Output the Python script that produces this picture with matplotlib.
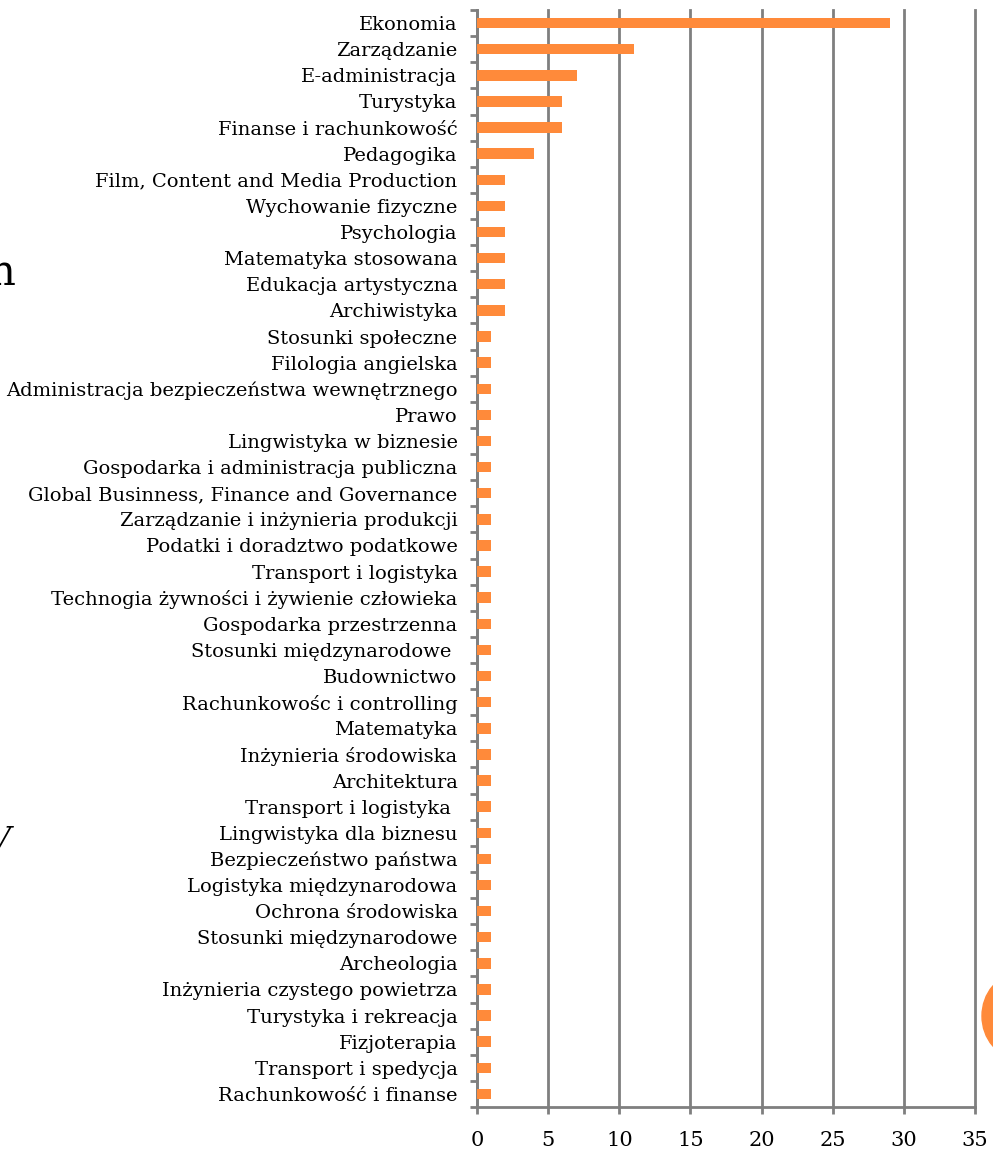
"""Horizontal bar chart: liczba studentów wg kierunku studiów."""

import matplotlib.pyplot as plt
import numpy as np
from matplotlib.patches import Circle

kierunki = [
    "Ekonomia",
    "Zarządzanie",
    "E-administracja",
    "Turystyka",
    "Finanse i rachunkowość",
    "Pedagogika",
    "Film, Content and Media Production",
    "Wychowanie fizyczne",
    "Psychologia",
    "Matematyka stosowana",
    "Edukacja artystyczna",
    "Archiwistyka",
    "Stosunki społeczne",
    "Filologia angielska",
    "Administracja bezpieczeństwa wewnętrznego",
    "Prawo",
    "Lingwistyka w biznesie",
    "Gospodarka i administracja publiczna",
    "Global Businness, Finance and Governance",
    "Zarządzanie i inżynieria produkcji",
    "Podatki i doradztwo podatkowe",
    "Transport i logistyka",
    "Technogia żywności i żywienie człowieka",
    "Gospodarka przestrzenna",
    "Stosunki międzynarodowe ",
    "Budownictwo",
    "Rachunkowośc i controlling",
    "Matematyka",
    "Inżynieria środowiska",
    "Architektura",
    "Transport i logistyka ",
    "Lingwistyka dla biznesu",
    "Bezpieczeństwo państwa",
    "Logistyka międzynarodowa",
    "Ochrona środowiska",
    "Stosunki międzynarodowe",
    "Archeologia",
    "Inżynieria czystego powietrza",
    "Turystyka i rekreacja",
    "Fizjoterapia",
    "Transport i spedycja",
    "Rachunkowość i finanse",
]
liczba = [29, 11, 7, 6, 6, 4, 2, 2, 2, 2, 2, 2] + [1] * 30

x_ticks = [0, 5, 10, 15, 20, 25, 30, 35]

GREY = "#7f7f7f"
ORANGE = "#FF8A3A"

plt.rcParams["font.family"] = ["DejaVu Serif"]

fig = plt.figure(figsize=(9.93, 11.53), dpi=100)
ax = fig.add_axes([0.4804, 0.0399, 0.5015, 0.9514])

pos = np.arange(len(kierunki))
ax.barh(pos, liczba, height=0.4, color=ORANGE, zorder=3)

ax.set_xlim(0, 35)
ax.set_ylim(len(kierunki) - 0.5, -0.5)
ax.set_xticks(x_ticks)
ax.set_xticklabels([str(v) for v in x_ticks], fontsize=15)
ax.set_yticks(pos)
ax.set_yticklabels(kierunki, fontsize=14)
ax.set_yticks(np.arange(len(kierunki) + 1) - 0.5, minor=True)

ax.tick_params(axis="y", which="major", length=0, pad=14)
ax.tick_params(axis="y", which="minor", length=5, width=2, color=GREY)
ax.tick_params(axis="x", length=5, width=2, color=GREY, pad=12)

ax.grid(axis="x", color=GREY, linewidth=2, zorder=0)
for line in ax.get_xgridlines():
    line.set_clip_on(False)
for side in ("top", "right"):
    ax.spines[side].set_visible(False)
for side in ("left", "bottom"):
    ax.spines[side].set_color(GREY)
    ax.spines[side].set_linewidth(2)

# fragments of the slide around the chart
fig.text(-0.012, 0.753, "n", fontsize=30, ha="left", va="baseline")
fig.text(-0.014, 0.262, "V", fontsize=24, style="italic", ha="left", va="baseline")
fig.patches.append(Circle((1018 / 993, 1 - 1016 / 1153), 36 / 993, color=ORANGE,
                          transform=fig.transFigure, figure=fig))

fig.savefig("out.png", dpi=100)
